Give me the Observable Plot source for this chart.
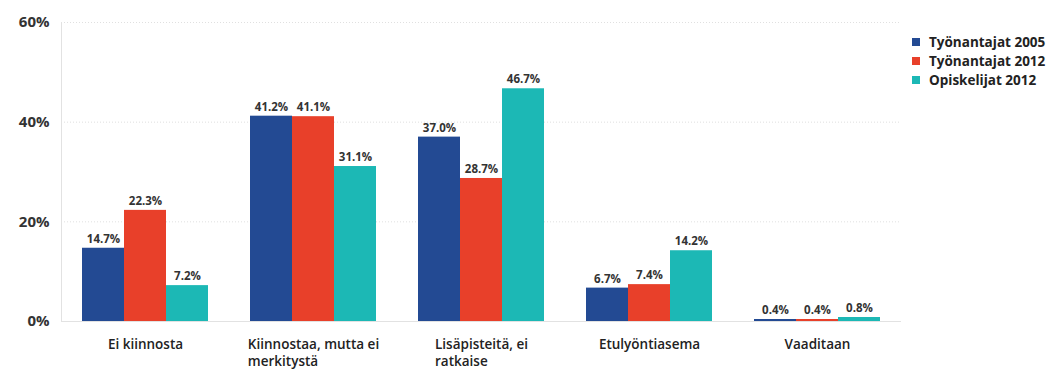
<!DOCTYPE html>
<html><head><meta charset="utf-8">
<script src="https://cdn.jsdelivr.net/npm/d3@7"></script>
<script src="https://cdn.jsdelivr.net/npm/@observablehq/plot@0.6"></script>
<style>
html,body{margin:0;padding:0;background:#fff;}
#wrap{position:relative;width:1064px;height:372px;font-family:"Open Sans",Lato,sans-serif;overflow:hidden;}
#legend{position:absolute;left:912px;top:32px;font-weight:700;font-size:13.5px;color:#222;}
#legend div{display:flex;align-items:center;height:19px;white-space:nowrap;}
#legend span.sw{display:inline-block;width:8px;height:8px;margin-right:9px;}
</style></head>
<body><div id="wrap"><div id="chart"></div><div id="legend"></div></div>
<script>
const categories = ["Ei kiinnosta", "Kiinnostaa, mutta ei\nmerkitystä", "Lisäpisteitä, ei\nratkaise", "Etulyöntiasema", "Vaaditaan"];
const seriesNames = ["Työnantajat 2005", "Työnantajat 2012", "Opiskelijat 2012"];
const colors = ["#234a93", "#e8402a", "#1cb8b5"];
const tyonantajat2005 = [14.7, 41.2, 37.0, 6.7, 0.4];
const tyonantajat2012 = [22.3, 41.1, 28.7, 7.4, 0.4];
const opiskelijat2012 = [7.2, 31.1, 46.7, 14.2, 0.8];
const yTicks = [0, 20, 40, 60];

const seriesValues = [tyonantajat2005, tyonantajat2012, opiskelijat2012];
const data = [];
categories.forEach((c, i) => seriesNames.forEach((s, j) => data.push({category: c, series: s, value: seriesValues[j][i]})));

const chart = Plot.plot({
  width: 905, height: 372,
  marginTop: 22, marginBottom: 51, marginLeft: 60, marginRight: 3,
  style: {fontFamily: "'Open Sans', Lato, sans-serif", color: "#222", background: "#fff"},
  fx: {domain: categories, padding: 0, label: null},
  x: {domain: seriesNames, padding: 0, paddingOuter: 0.5, axis: null},
  y: {domain: [0, 60], ticks: yTicks, label: null},
  color: {domain: seriesNames, range: colors},
  marks: [
    Plot.gridY(yTicks.slice(1), {stroke: "#ccc", strokeOpacity: 0.6, strokeDasharray: "1,2"}),
    Plot.frame({anchor: "left", stroke: "#e2e2e2", facetAnchor: "left"}),
    Plot.ruleY([0], {stroke: "#e2e2e2"}),
    Plot.barY(data, {fx: "category", x: "series", y: "value", fill: "series"}),
    Plot.text(data, {fx: "category", x: "series", y: "value", text: d => d.value.toFixed(1) + "%", dy: -9, fontSize: 11.5, fontWeight: 700, fill: "#333"}),
    Plot.axisY(yTicks, {tickSize: 0, tickPadding: 12, tickFormat: d => d + "%", fontSize: 15, fontWeight: 700, fill: "#333"}),
    Plot.axisFx({anchor: "bottom", tickSize: 0, tickPadding: 15, fontSize: 13.5, fontWeight: 600, fill: "#222", label: null, lineWidth: 30, lineHeight: 1.28})
  ]
});
document.getElementById("chart").appendChild(chart);

// left-align the lines of wrapped category labels while keeping the block centred
d3.select(chart).selectAll("text").each(function() {
  const tsp = this.querySelectorAll("tspan");
  if (tsp.length > 1 && categories.some(c => c.includes("\n") && this.textContent.replace(/\s/g,"") === c.replace(/\s/g,""))) {
    const w = this.getBBox().width;
    this.setAttribute("text-anchor", "start");
    tsp.forEach(t => t.setAttribute("x", -w / 2));
  }
});

const lg = d3.select("#legend");
seriesNames.forEach((s, i) => {
  const row = lg.append("div");
  row.append("span").attr("class", "sw").style("background", colors[i]);
  row.append("span").text(s);
});
</script></body></html>
